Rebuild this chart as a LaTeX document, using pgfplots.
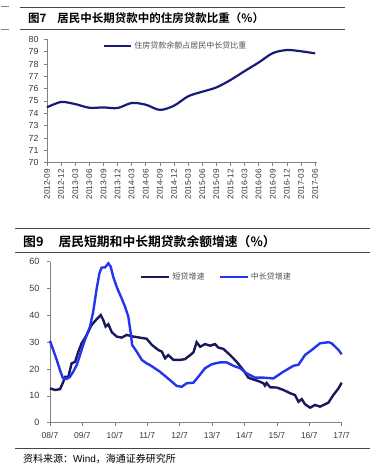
\documentclass[border=0pt]{standalone}
\usepackage{fontspec}
\setmainfont{Liberation Sans}
\newfontfamily\cjk{Noto Sans CJK SC}[BoldFont={Noto Sans CJK SC Bold}]
\usepackage{pgfplots}
\pgfplotsset{compat=1.18}
\definecolor{navy}{RGB}{26,26,122}
\definecolor{sdark}{RGB}{24,24,92}
\definecolor{lblue}{RGB}{34,54,238}
\definecolor{axgray}{RGB}{128,128,128}
\definecolor{txtgray}{RGB}{55,55,55}
\definecolor{leggray}{RGB}{80,80,80}
\definecolor{rulegray}{RGB}{70,70,70}
\begin{document}
\begin{tikzpicture}[x=1pt,y=1pt]
\useasboundingbox (0,0) rectangle (382,-468);
% top rules
\draw[rulegray, line width=0.8pt] (20,-7) -- (345,-7);
\draw[rulegray, line width=0.8pt] (20,-29) -- (345,-29);
\draw[axgray, line width=0.6pt] (1,-6.5) -- (9,-6.5);
\draw[axgray, line width=0.6pt] (1,-29.5) -- (9,-29.5);
\node[anchor=west, inner sep=0pt] at (28,-18.5) {\cjk\bfseries\fontsize{11.5}{11.5}\selectfont 图7\hspace{11pt}居民中长期贷款中的住房贷款比重（\%）};
\begin{axis}[
 at={(47pt,-162.7pt)}, anchor=south west,
 scale only axis, width=270pt, height=123.4pt,
 xmin=0, xmax=57.4, ymin=70, ymax=80,
 axis x line*=bottom, axis y line*=left,
 axis line style={axgray, line width=0.6pt},
 tick align=outside, major tick length=3pt,
 tick style={axgray, line width=0.6pt},
 ytick={70,71,...,80},
 xtick={0,3,...,57},
 xticklabels={2012-09,2012-12,2013-03,2013-06,2013-09,2013-12,2014-03,2014-06,2014-09,2014-12,2015-03,2015-06,2015-09,2015-12,2016-03,2016-06,2016-09,2016-12,2017-03,2017-06},
 xticklabel style={rotate=90, anchor=east, font=\fontsize{8.2}{8.2}\selectfont, text=txtgray},
 yticklabel style={font=\fontsize{8.8}{8.8}\selectfont, text=txtgray, xshift=-2pt},
 /pgf/number format/assume math mode=true,
 legend style={at={(axis cs:11.9,79.46)}, anchor=west, draw=none, fill=none, font=\cjk\fontsize{8}{8}\selectfont, inner sep=0pt, text=leggray},
 legend image code/.code={\draw[#1] (0pt,0pt) -- (27pt,0pt);},
 clip=false,
]
\addplot[navy, line width=2.2pt, smooth, tension=0.5] coordinates {
(0,74.49) (3,74.92) (6,74.75) (9,74.45) (12,74.48) (15,74.43) (18,74.84) (21,74.70) (24,74.28) (27,74.62) (30,75.38) (33,75.75) (36,76.10) (39,76.70) (42,77.42) (45,78.12) (48,78.88) (51,79.13) (54,79.03) (57,78.86)
};
\addlegendentry{住房贷款余额占居民中长贷比重}
\end{axis}
% bottom rules
\draw[rulegray, line width=0.8pt] (15,-228.3) -- (370,-228.3);
\draw[rulegray, line width=0.8pt] (15,-252.3) -- (370,-252.3);
\draw[rulegray, line width=0.8pt] (15,-448.3) -- (370,-448.3);
\node[anchor=west, inner sep=0pt] at (23,-241.7) {\cjk\bfseries\fontsize{12.8}{12.8}\selectfont 图9\hspace{15pt}居民短期和中长期贷款余额增速（\%）};
\node[anchor=west, inner sep=0pt] at (23,-458.5) {\cjk\fontsize{10}{10}\selectfont 资料来源：\fontspec{Liberation Sans}Wind\cjk，海通证券研究所};
\begin{axis}[
 at={(50pt,-422.7pt)}, anchor=south west,
 scale only axis, width=291.7pt, height=161pt,
 xmin=0, xmax=108, ymin=0, ymax=60,
 axis x line*=bottom, axis y line*=left,
 axis line style={axgray, line width=0.6pt},
 tick align=outside, major tick length=3pt,
 tick style={axgray, line width=0.6pt},
 ytick={0,10,...,60},
 xtick={0,12,...,108},
 xticklabels={08/7,09/7,10/7,11/7,12/7,13/7,14/7,15/7,16/7,17/7},
 xticklabel style={font=\fontsize{8.5}{8.5}\selectfont, text=txtgray, yshift=-3pt},
 yticklabel style={font=\fontsize{9}{9}\selectfont, text=txtgray, xshift=-4pt},
 /pgf/number format/assume math mode=true,
 legend style={at={(axis cs:33.3,54.3)}, anchor=west, draw=none, fill=none, font=\cjk\fontsize{8}{8}\selectfont, inner sep=0pt, text=leggray, legend columns=2, /tikz/every even column/.append style={column sep=12pt}},
 legend image code/.code={\draw[#1] (0pt,0pt) -- (28pt,0pt);},
 clip=false,
]
\addplot[sdark, line width=2.4pt] coordinates {
(0,12.8) (1.9,12.2) (3.7,12.5) (4.7,14.7) (5.6,17.1) (6.8,17.1) (8,22.1) (9.3,22.7) (10.5,26.5) (11.7,29.6) (13.6,32.7) (15.4,36.4) (17.3,38.6) (18.8,40.1) (19.7,38.3) (20.6,35.8) (21.6,36.7) (22.9,33.7) (24.7,32.1) (26.5,31.7) (28.4,32.7) (30.9,32.1) (33.3,31.7) (35.8,31.3) (37.7,29.0) (40.1,27.1) (41.4,26.5) (42.6,24.0) (43.8,25.2) (45.7,23.4) (48.1,23.4) (50,23.7) (51.9,25.2) (53.1,26.2) (54.3,30.0) (55.6,28.3) (57.4,29.3) (59.3,28.7) (61.1,29.3) (62.3,28.0) (64.2,27.5) (66.7,25.2) (69.1,22.7) (71.6,19.6) (73.4,16.8) (74.7,16.3) (77.2,15.5) (79,14.7) (79.6,13.8) (80.2,14.8) (81.5,13.2) (84,13.1) (86.4,12.2) (88.9,11.0) (90.7,10.3) (92,7.8) (93.2,8.8) (94.4,6.9) (96.3,5.6) (98.1,6.6) (100,6.0) (101.9,6.9) (103.1,7.5) (104.9,10.3) (106.8,12.8) (108,14.9)
};
\addlegendentry{短贷增速}
\addplot[lblue, line width=2.4pt] coordinates {
(0,30.5) (1.2,27.1) (2.5,23.4) (3.7,19.6) (4.7,16.8) (6.2,16.3) (7.4,17.1) (8.6,19.0) (9.9,21.5) (11.1,25.2) (12.3,29.0) (13.6,32.7) (14.8,35.8) (16,41.4) (17.3,50.1) (18.3,55.7) (19.1,57.8) (20.4,57.9) (21.6,59.4) (22.5,58.1) (23.4,54.4) (24.9,50.1) (26.5,46.4) (27.8,43.2) (29,39.5) (29.9,33.3) (30.4,29) (32.1,26.5) (34,23.4) (35.8,22.1) (37,21.5) (40.7,19.0) (44.4,15.9) (46.9,13.7) (48.8,13.4) (50.6,14.7) (53.1,14.9) (54.9,17.1) (57.4,20.3) (59.9,21.8) (63,22.5) (65.4,22.5) (67.9,21.2) (70.4,20.3) (72.8,18.4) (75.9,16.8) (79,16.8) (82.7,16.5) (86.4,19.0) (90.1,21.2) (92,21.6) (94.4,25.2) (96.9,27.1) (100,29.6) (103.1,30.0) (104.3,29.6) (106.8,27.1) (108,25.5)
};
\addlegendentry{中长贷增速}
\end{axis}
\end{tikzpicture}
\end{document}
